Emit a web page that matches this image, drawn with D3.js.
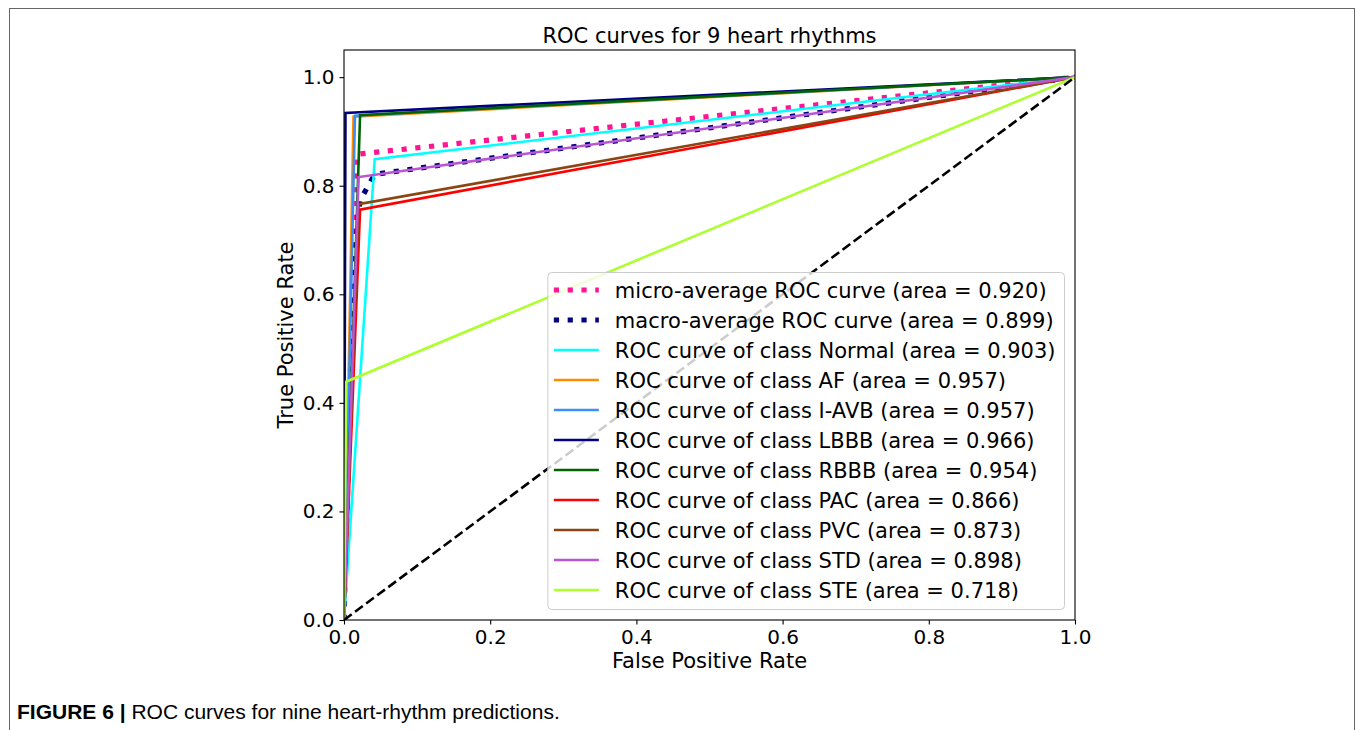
<!DOCTYPE html>
<html>
<head>
<meta charset="utf-8">
<script src="https://cdn.jsdelivr.net/npm/d3@7"></script>
<style>
  body { margin: 0; background: #fff; }
  svg text { font-family: "DejaVu Sans", sans-serif; fill: #000; }
  .caption { font-family: "Liberation Sans", Arial, sans-serif; }
</style>
</head>
<body>
<svg id="chart" width="1357" height="730"></svg>
<script>
// ---- data ----
const classNames = ["Normal", "AF", "I-AVB", "LBBB", "RBBB", "PAC", "PVC", "STD", "STE"];
const classAreas = [0.903, 0.957, 0.957, 0.966, 0.954, 0.866, 0.873, 0.898, 0.718];
const classFpr = [
    [0, 0.042, 1], [0, 0.013, 1], [0, 0.015, 1], [0, 0.002, 1], [0, 0.022, 1],
    [0, 0.022, 1], [0, 0.020, 1], [0, 0.020, 1], [0, 0.003, 1]
];
const classTpr = [
    [0, 0.849, 1], [0, 0.927, 1], [0, 0.929, 1], [0, 0.934, 1], [0, 0.930, 1],
    [0, 0.756, 1], [0, 0.766, 1], [0, 0.816, 1], [0, 0.439, 1]
];
const microArea = 0.920;
const microFpr = [0, 0.018, 1];
const microTpr = [0, 0.858, 1];
const macroArea = 0.899;
const macroFpr = [0, 0.002, 0.003, 0.013, 0.015, 0.019, 0.022, 0.042, 1];
const macroTpr = [0, 0.206, 0.257, 0.606, 0.660, 0.740, 0.773, 0.821, 1];
const xTicks = [0, 0.2, 0.4, 0.6, 0.8, 1.0];
const yTicks = [0, 0.2, 0.4, 0.6, 0.8, 1.0];

// styles
const classColors = ["aqua", "darkorange", "#3a8ef6", "navy", "darkgreen", "red", "saddlebrown", "mediumorchid", "greenyellow"];

const svg = d3.select("#chart");
const margin = {left: 344, right: 1075, top: 50, bottom: 620};

const xScale = d3.scaleLinear().domain([0, 1]).range([margin.left, margin.right]);
const yScale = d3.scaleLinear().domain([0, 1.05]).range([margin.bottom, margin.top]);

// outer frame of the figure
svg.append("rect")
    .attr("x", 9.5).attr("y", 8.5)
    .attr("width", 1345).attr("height", 740)
    .attr("fill", "none")
    .attr("stroke", "#666")
    .attr("stroke-width", 1);

svg.append("defs").append("clipPath").attr("id", "plotClip")
    .append("rect")
    .attr("x", margin.left).attr("y", margin.top)
    .attr("width", margin.right - margin.left)
    .attr("height", margin.bottom - margin.top);

const plot = svg.append("g").attr("clip-path", "url(#plotClip)");

const line = d3.line()
    .x(d => xScale(d[0]))
    .y(d => yScale(d[1]));

function zipCurve(fpr, tpr) {
    return fpr.map((f, i) => [f, tpr[i]]);
}

// micro & macro averages, dotted
plot.append("path")
    .attr("d", line(zipCurve(microFpr, microTpr)))
    .attr("fill", "none")
    .attr("stroke", "deeppink")
    .attr("stroke-width", 5.2)
    .attr("stroke-dasharray", "5.2,8.6");

plot.append("path")
    .attr("d", line(zipCurve(macroFpr, macroTpr)))
    .attr("fill", "none")
    .attr("stroke", "navy")
    .attr("stroke-width", 5.2)
    .attr("stroke-dasharray", "5.2,8.6");

classNames.forEach(function (name, i) {
    plot.append("path")
        .attr("d", line(zipCurve(classFpr[i], classTpr[i])))
        .attr("fill", "none")
        .attr("stroke", classColors[i])
        .attr("stroke-width", 2.6);
});

// chance diagonal
plot.append("path")
    .attr("d", line([[0, 0], [1, 1]]))
    .attr("fill", "none")
    .attr("stroke", "black")
    .attr("stroke-width", 2.6)
    .attr("stroke-dasharray", "9.6,4.2");

// axes
const xAxis = d3.axisBottom(xScale).tickValues(xTicks).tickFormat(d3.format(".1f")).tickSizeOuter(0).tickSize(4.5).tickPadding(5);
const yAxis = d3.axisLeft(yScale).tickValues(yTicks).tickFormat(d3.format(".1f")).tickSizeOuter(0).tickSize(4.5).tickPadding(5);

const gx = svg.append("g").attr("transform", "translate(0," + margin.bottom + ")").call(xAxis);
const gy = svg.append("g").attr("transform", "translate(" + margin.left + ",0)").call(yAxis);
[gx, gy].forEach(g => {
    g.select(".domain").remove();
    g.selectAll("text").style("font-size", "20px").style("font-family", "DejaVu Sans");
    g.selectAll("line").attr("stroke", "#000").attr("stroke-width", 1.1);
});

// spines
svg.append("rect")
    .attr("x", margin.left).attr("y", margin.top)
    .attr("width", margin.right - margin.left)
    .attr("height", margin.bottom - margin.top)
    .attr("fill", "none")
    .attr("stroke", "#000")
    .attr("stroke-width", 1.1);

// labels
svg.append("text")
    .attr("x", (margin.left + margin.right) / 2).attr("y", 43)
    .attr("text-anchor", "middle")
    .style("font-size", "21px")
    .text("ROC curves for 9 heart rhythms");

svg.append("text")
    .attr("x", (margin.left + margin.right) / 2).attr("y", 668)
    .attr("text-anchor", "middle")
    .style("font-size", "21px")
    .text("False Positive Rate");

svg.append("text")
    .attr("transform", "translate(293," + (margin.top + margin.bottom) / 2 + ") rotate(-90)")
    .attr("text-anchor", "middle")
    .style("font-size", "21px")
    .text("True Positive Rate");

// legend (lower right)
const legendItems = [
    {label: "micro-average ROC curve (area = " + microArea.toFixed(3) + ")", color: "deeppink", dotted: true},
    {label: "macro-average ROC curve (area = " + macroArea.toFixed(3) + ")", color: "navy", dotted: true}
].concat(classNames.map((n, i) => ({
    label: "ROC curve of class " + n + " (area = " + classAreas[i].toFixed(3) + ")",
    color: classColors[i], dotted: false
})));

const rowH = 30;
const legendBottom = margin.bottom - 10.5;
const legendRight = margin.right - 10.5;
const legendH = rowH * legendItems.length + 7;
const legendTop = legendBottom - legendH;
const legend = svg.append("g");
const legendBox = legend.append("rect")
    .attr("y", legendTop)
    .attr("height", legendH)
    .attr("rx", 4).attr("ry", 4)
    .attr("fill", "white")
    .attr("fill-opacity", 0.8)
    .attr("stroke", "#cccccc")
    .attr("stroke-width", 1);

let maxW = 0;
const texts = [];
legendItems.forEach(function (item, i) {
    const cy = legendTop + 17.5 + i * rowH;
    const row = legend.append("g");
    const t = row.append("text")
        .attr("y", cy)
        .attr("dy", "0.36em")
        .style("font-size", "21px")
        .text(item.label);
    maxW = Math.max(maxW, t.node().getComputedTextLength());
    texts.push({row: row, text: t, item: item, cy: cy});
});

const legendW = maxW + 76;
const legendLeft = legendRight - legendW;
legendBox.attr("x", legendLeft).attr("width", legendW);
texts.forEach(function (r) {
    r.text.attr("x", legendLeft + 67);
    r.row.append("line")
        .attr("x1", legendLeft + 6).attr("x2", legendLeft + 51)
        .attr("y1", r.cy).attr("y2", r.cy)
        .attr("stroke", r.item.color)
        .attr("stroke-width", r.item.dotted ? 5.2 : 2.6)
        .attr("stroke-dasharray", r.item.dotted ? "5.2,8.6" : null);
});

// caption
const cap = svg.append("text")
    .attr("class", "caption")
    .attr("x", 17).attr("y", 719)
    .style("font-size", "21px");
cap.append("tspan").style("font-weight", "bold").text("FIGURE 6 |");
cap.append("tspan").text(" ROC curves for nine heart-rhythm predictions.");
</script>
</body>
</html>
